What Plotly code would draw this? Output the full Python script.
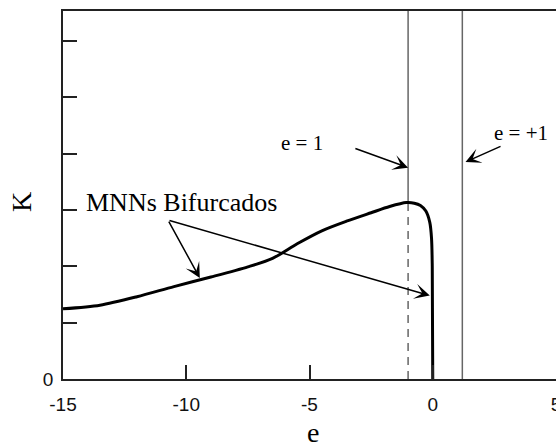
import plotly.graph_objects as go

# ---- data ----
e_curve = [-15.0, -13.5, -12.0, -10.5, -9.0, -7.5, -6.5, -5.5, -4.5, -3.5, -2.5,
           -1.75, -1.07, -0.75, -0.5, -0.28, -0.12, -0.05, -0.02, 0.0]
K_curve = [1.246, 1.31, 1.46, 1.64, 1.81, 1.99, 2.14, 2.40, 2.63, 2.80, 2.95,
           3.06, 3.13, 3.12, 3.08, 2.98, 2.78, 2.50, 2.00, 0.0]

e_left_line = -1.0      # "e = 1" line (dashed below the curve peak)
e_right_line = 1.2      # "e = +1" line
K_peak = 3.135
K_top = 6.53

x_ticks = [-15, -10, -5, 0, 5]
x_tick_text = ["-15", "-10", "-5", "0", "5"]
y_ticks = [0, 1, 2, 3, 4, 5, 6]
y_tick_text = ["0", "", "", "", "", "", ""]

label_main = "MNNs Bifurcados"
label_left = "e = 1"
label_right = "e = +1"
x_title = "e"
y_title = "K"

# arrows: (tip_e, tip_K, tail_e, tail_K)
arrows = [
    (-9.45, 1.79, -10.74, 2.82),
    (-0.12, 1.48, -10.74, 2.82),
    (-1.0, 3.75, -3.20, 4.10),
    (1.33, 3.85, 2.81, 4.14),
]

SERIF = "Liberation Serif"
SANS = "Liberation Sans"
AX = "#222222"
REF = "#666666"

fig = go.Figure()

# reference vertical lines
fig.add_trace(go.Scatter(x=[e_left_line, e_left_line], y=[K_peak, K_top], mode="lines",
                         line=dict(color=REF, width=1.5), hoverinfo="skip"))
fig.add_trace(go.Scatter(x=[e_left_line, e_left_line], y=[0, K_peak], mode="lines",
                         line=dict(color=REF, width=1.5, dash="8px,6px"), hoverinfo="skip"))
fig.add_trace(go.Scatter(x=[e_right_line, e_right_line], y=[0, K_top], mode="lines",
                         line=dict(color=REF, width=1.5), hoverinfo="skip"))

# main curve
fig.add_trace(go.Scatter(x=e_curve, y=K_curve, mode="lines",
                         line=dict(color="black", width=3, shape="spline", smoothing=0.8)))

annotations = [
    dict(x=-10.2, y=3.14, text=label_main, showarrow=False,
         font=dict(family=SERIF, size=26, color="black")),
    dict(x=-5.30, y=4.19, text=label_left, showarrow=False,
         font=dict(family=SERIF, size=21, color="black")),
    dict(x=3.58, y=4.37, text=label_right, showarrow=False,
         font=dict(family=SERIF, size=21, color="black")),
    dict(x=-0.0844, y=0.482, xref="paper", yref="paper", text=y_title, showarrow=False,
         xanchor="center", yanchor="middle",
         textangle=-90, font=dict(family=SERIF, size=28, color="black")),
    dict(x=0.508, y=-0.097, xref="paper", yref="paper", text=x_title, showarrow=False,
         xanchor="center", yanchor="top",
         font=dict(family=SERIF, size=28, color="black")),
]
for tx, ty, sx, sy in arrows:
    annotations.append(dict(x=tx, y=ty, ax=sx, ay=sy, axref="x", ayref="y", xref="x", yref="y",
                            text="", showarrow=True, arrowhead=3, arrowsize=1.7,
                            arrowwidth=1.5, arrowcolor="black"))

fig.update_layout(
    width=556, height=443,
    margin=dict(l=63, r=0, t=11, b=64),
    paper_bgcolor="white", plot_bgcolor="white",
    showlegend=False,
    annotations=annotations,
    xaxis=dict(range=[-15, 5], tickvals=x_ticks, ticktext=x_tick_text,
               ticks="inside", ticklen=14, tickwidth=1.5, tickcolor=AX,
               showline=True, linecolor=AX, linewidth=1.5, mirror=True,
               showgrid=False, zeroline=False, automargin=False,
               ticklabelstandoff=7, ticklabeloverflow="allow",
               tickfont=dict(family=SANS, size=19, color="#111")),
    yaxis=dict(range=[0, K_top], tickvals=y_ticks, ticktext=y_tick_text,
               ticks="inside", ticklen=14, tickwidth=1.5, tickcolor=AX,
               showline=True, linecolor=AX, linewidth=1.5, mirror=False,
               showgrid=False, zeroline=False, automargin=False,
               ticklabelstandoff=4,
               tickfont=dict(family=SANS, size=19, color="#111")),
)

fig.write_html(
    "out.html",
    config={"displayModeBar": False},
    post_script="document.body.style.margin='0';document.body.style.padding='0';"
                "document.body.style.overflow='hidden';",
)
